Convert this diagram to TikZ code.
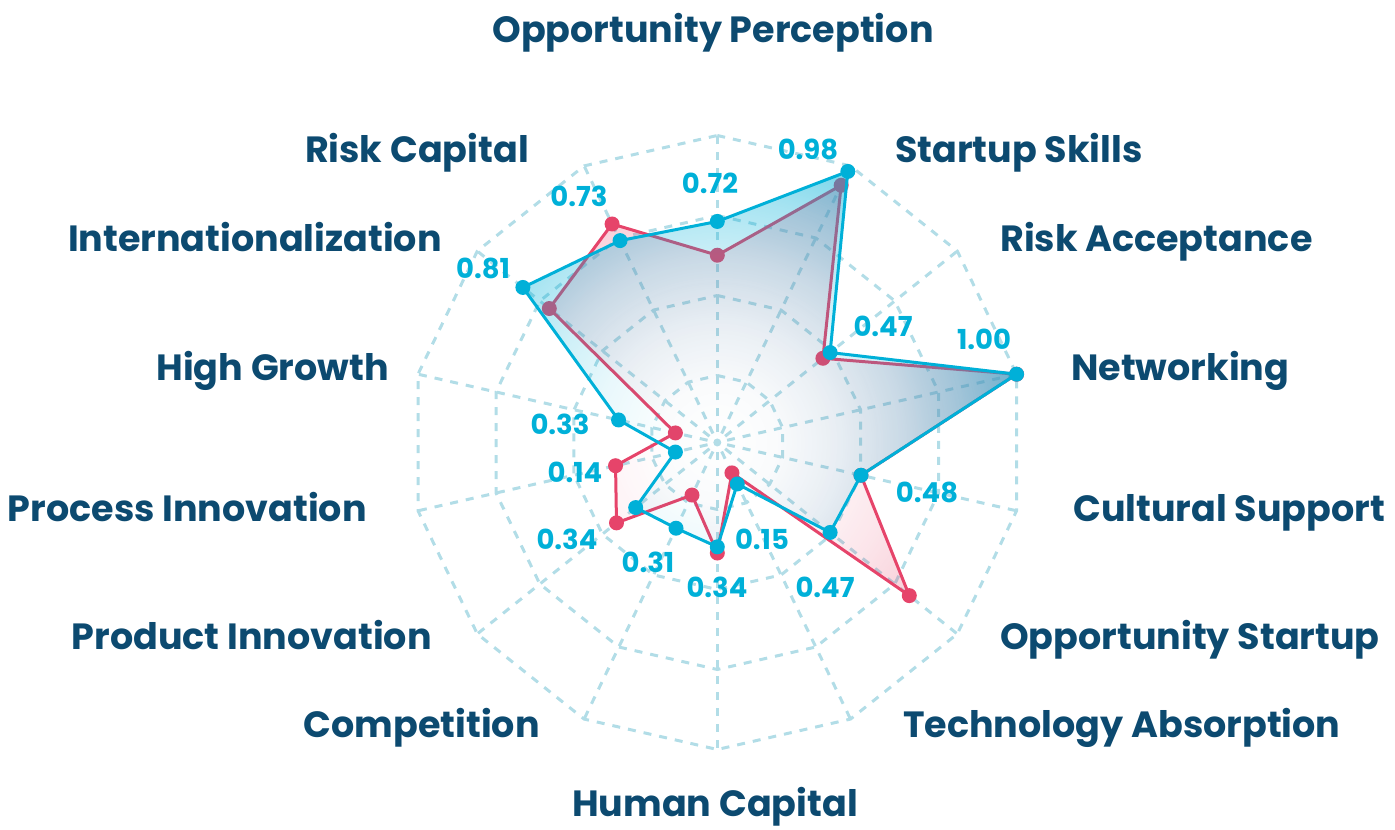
\documentclass[tikz,border=0pt]{standalone}
\usepackage{fontspec}
\setmainfont{Poppins}
\usetikzlibrary{fadings}
\definecolor{navy}{RGB}{12,74,112}
\definecolor{cyanv}{RGB}{0,176,216}
\definecolor{redv}{RGB}{230,68,106}
\definecolor{gridc}{RGB}{178,221,231}
\pgfdeclareradialshading{bshade}{\pgfpointorigin}{color(0bp)=(black); color(2.5bp)=(white!2.2!black); color(5bp)=(white!8.8!black); color(7.5bp)=(white!19.8!black); color(10bp)=(white!35.2!black); color(12.5bp)=(white!55!black); color(50bp)=(white!55!black)}
\pgfdeclarefading{bluefade}{\pgfuseshading{bshade}}
\pgfdeclareradialshading{rshade}{\pgfpointorigin}{color(0bp)=(black); color(2.5bp)=(white!1.6!black); color(5bp)=(white!6.4!black); color(7.5bp)=(white!14.4!black); color(10bp)=(white!25.6!black); color(12.5bp)=(white!40!black); color(50bp)=(white!40!black)}
\pgfdeclarefading{redfade}{\pgfuseshading{rshade}}
\begin{document}
\begin{tikzpicture}[x=1pt,y=1pt,
  lab/.style={text=navy, font=\bfseries\fontsize{36.5}{36.5}\selectfont, inner sep=0pt},
  val/.style={text=cyanv, font=\bfseries\fontsize{27.5}{27.5}\selectfont, inner sep=0pt, anchor=center},
  gridl/.style={gridc, line width=3pt, dash pattern=on 8pt off 8pt},
  bline/.style={cyanv, line width=3pt, line join=round},
  rline/.style={redv, line width=3pt, line join=round},
  bdot/.style={fill=cyanv},
  rdot/.style={fill=redv}]
\useasboundingbox (0,0) rectangle (1395,830);
\coordinate (C) at (717.3,387.5);
% axis end points and data points
\foreach \i/\bv/\rv in {0/0.72/0.61, 1/0.98/0.93, 2/0.47/0.44, 3/1.00/1.00, 4/0.48/0.48,
  5/0.47/0.80, 6/0.15/0.11, 7/0.34/0.36, 8/0.31/0.19, 9/0.34/0.42, 10/0.14/0.34,
  11/0.33/0.14, 12/0.81/0.70, 13/0.73/0.79} {
  \coordinate (o\i) at ([shift={(C)}]{90-\i*360/14}:307pt);
  \coordinate (b\i) at ([shift={(C)}]{90-\i*360/14}:{\bv*307pt});
  \coordinate (r\i) at ([shift={(C)}]{90-\i*360/14}:{\rv*307pt});
}
% grid
\foreach \rr in {67,147,227,307}
  \draw[gridl] ([shift={(C)}]90:\rr pt) \foreach \i in {1,...,13}{ -- ([shift={(C)}]{90-\i*360/14}:\rr pt)} -- cycle;
\foreach \i in {0,...,13}
  \draw[gridl, shorten <=10pt] (C) -- (o\i);
\fill[gridc] (C) circle (4pt);
% red series
\begin{scope}
  \clip (r0) \foreach \i in {1,...,13}{ -- (r\i)} -- cycle;
  \fill[redv, path fading=redfade] (C) circle (614pt);
\end{scope}
\draw[rline] (r0) \foreach \i in {1,...,13}{ -- (r\i)} -- cycle;
\foreach \i in {0,...,13} \fill[rdot] (r\i) circle (7.5pt);
% blue series
\begin{scope}
  \clip (b0) \foreach \i in {1,...,13}{ -- (b\i)} -- cycle;
  \fill[cyanv, path fading=bluefade] (C) circle (614pt);
\end{scope}
\draw[bline] (b0) \foreach \i in {1,...,13}{ -- (b\i)} -- cycle;
\foreach \i in {0,...,13} \fill[bdot] (b\i) circle (7.5pt);
% axis labels
\node[lab, anchor=base] (lOP) at (713,787) {Opportunity Perception};
\node[lab, anchor=base west] (lSS) at (895,667) {Startup Skills};
\node[lab, anchor=base west] (lRA) at (1000,578) {Risk Acceptance};
\node[lab, anchor=base west] (lNW) at (1071,449) {Networking};
\node[lab, anchor=base west] (lCS) at (1073,308) {Cultural Support};
\node[lab, anchor=base west] (lOS) at (1000,180) {Opportunity Startup};
\node[lab, anchor=base west] (lTA) at (903,92) {Technology Absorption};
\node[lab, anchor=base] (lHC) at (715,13) {Human Capital};
\node[lab, anchor=base east] (lCO) at (540,92) {Competition};
\node[lab, anchor=base east] (lPD) at (432,180) {Product Innovation};
\node[lab, anchor=base east] (lPC) at (367,308) {Process Innovation};
\node[lab, anchor=base east] (lHG) at (389,449) {High Growth};
\node[lab, anchor=base east] (lIN) at (442,578) {Internationalization};
\node[lab, anchor=base east] (lRC) at (529,667) {Risk Capital};
% value labels
\node[val] (v0) at (710,647) {0.72};
\node[val] (v1) at (808,681) {0.98};
\node[val] (v2) at (883,504) {0.47};
\node[val] (v3) at (984,491) {1.00};
\node[val] (v4) at (927,338) {0.48};
\node[val] (v5) at (825,243) {0.47};
\node[val] (v6) at (762,291) {0.15};
\node[val] (v7) at (717,243) {0.34};
\node[val] (v8) at (648,268) {0.31};
\node[val] (v9) at (567,291) {0.34};
\node[val] (v10) at (575,358) {0.14};
\node[val] (v11) at (560,406) {0.33};
\node[val] (v12) at (483,562) {0.81};
\node[val] (v13) at (579,634) {0.73};
\end{tikzpicture}
\end{document}
